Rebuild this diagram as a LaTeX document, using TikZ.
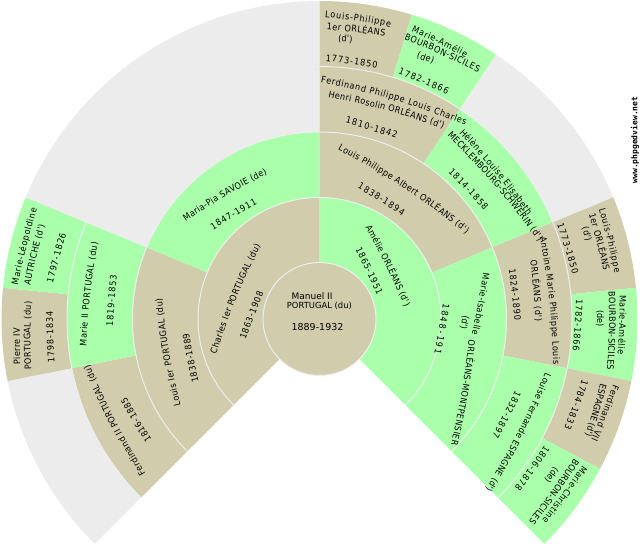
\documentclass[tikz,border=0pt]{standalone}
\usepackage{fontspec}
\setmainfont{DejaVu Sans}
\newfontfamily\arcfont[FakeStretch=0.9]{DejaVu Sans}
\newfontfamily\wmfont{DejaVu Sans Mono}
\usetikzlibrary{calc,decorations.text}
\definecolor{tan}{HTML}{D0CCAC}
\definecolor{grn}{HTML}{AAFFAA}
\definecolor{gry}{HTML}{ECECEC}
\definecolor{sep}{HTML}{EEEEEE}
\newcommand\tfont{\arcfont\fontsize{9}{10}\selectfont}
% annular sector: radii, start angle, end angle, colour
\newcommand\sect[5]{\fill[#5] ($(C)+(#3:#1)$) arc[start angle=#3,end angle=#4,radius=#1] -- ($(C)+(#4:#2)$) arc[start angle=#4,end angle=#3,radius=#2] -- cycle;}
% one line of text, from the middle of its first to the middle of its last glyph
\newcommand\tl[5]{%
  \pgfmathsetmacro\bb{veclen(#3-#1,#4-#2)/30}%
  \path[decorate,decoration={text along path,text={|\tfont|#5{\kern1.5pt}},text align={fit to path}}]
    ($(#1,-#2)!3pt!(C)$) to[bend left=\bb] ($($(#3,-#4)!-3.5pt!(#1,-#2)$)!3pt!(C)$);}
\tikzset{
  ringsep/.style={draw=sep,line width=1pt},
  ctext/.style={inner sep=0pt},
  wmark/.style={inner sep=0pt,rotate=90,font=\wmfont\bfseries\fontsize{8}{9}\selectfont}
}
\begin{document}
\begin{tikzpicture}[x=1pt,y=1pt]
\useasboundingbox (0,0) rectangle (640,-550);
\coordinate (C) at (319.5,-319);
% ring 4
\sect{252.5}{318}{225}{191.25}{gry}
\sect{252.5}{318}{191.25}{174.375}{tan}
\sect{252.5}{318}{174.375}{157.5}{grn}
\sect{252.5}{318}{157.5}{90}{gry}
\sect{252.5}{318}{90}{73.125}{tan}
\sect{252.5}{318}{73.125}{56.25}{grn}
\sect{252.5}{318}{56.25}{22.5}{gry}
\sect{252.5}{318}{22.5}{5.625}{tan}
\sect{252.5}{318}{5.625}{-11.25}{grn}
\sect{252.5}{318}{-11.25}{-28.125}{tan}
\sect{252.5}{318}{-28.125}{-45}{grn}
% ring 3
\sect{187}{252.5}{225}{191.25}{tan}
\sect{187}{252.5}{191.25}{157.5}{grn}
\sect{187}{252.5}{157.5}{90}{gry}
\sect{187}{252.5}{90}{56.25}{tan}
\sect{187}{252.5}{56.25}{22.5}{grn}
\sect{187}{252.5}{22.5}{-11.25}{tan}
\sect{187}{252.5}{-11.25}{-45}{grn}
% ring 2
\sect{121.5}{187}{225}{157.5}{tan}
\sect{121.5}{187}{157.5}{90}{grn}
\sect{121.5}{187}{90}{22.5}{tan}
\sect{121.5}{187}{22.5}{-45}{grn}
% ring 1
\sect{56}{121.5}{225}{90}{tan}
\sect{56}{121.5}{90}{-45}{grn}
% separators
\draw[ringsep] ($(C)+(225:121.5)$) arc[start angle=225,end angle=-45,radius=121.5];
\draw[ringsep] ($(C)+(225:187)$) arc[start angle=225,end angle=-45,radius=187];
\draw[ringsep] ($(C)+(225:252.5)$) arc[start angle=225,end angle=-45,radius=252.5];
\fill[tan,draw=sep,line width=1pt] (C) circle[radius=56.5];
% centre
\node[ctext,font=\fontsize{9}{10}\selectfont] (m1) at (312,-295.7) {Manuel II};
\node[ctext,font=\fontsize{8.4}{10}\selectfont] (m2) at (319.4,-305.7) {PORTUGAL (du)};
\node[ctext,font=\fontsize{9.5}{10}\selectfont] (m3) at (317.5,-327.3) {1889-1932};
% ring 1
\tl{213.3}{355}{258.3}{245}{Charles Ier PORTUGAL (du)}
\tl{242.7}{340.7}{260.7}{292.7}{1863-1908}
\tl{366.7}{225}{406.7}{305}{Amélie ORLÉANS (d')}
\tl{356.7}{246.7}{379.3}{293.3}{1865-1951}
% ring 2
\tl{178}{407}{159.3}{299.3}{Louis Ier PORTUGAL (du)}
\tl{196}{383.3}{186.3}{334.5}{1838-1889}
\tl{183.3}{220}{265}{171.7}{Maria-Pia SAVOIE (de)}
\tl{210.7}{228.3}{255}{201.7}{1847-1911}
\tl{338.3}{146.7}{467.3}{231.7}{Louis Philippe Albert ORLÉANS (d')}
\tl{358.3}{185}{403.3}{213.3}{1838-1894}
\tl{486}{272}{475}{333}{Marie-Isabelle}
\tl{466}{315}{464}{325}{(d')}
\tl{471.7}{340}{453.3}{445}{ORLÉANS-MONTPENSIER}
\begin{scope}
\clip (400,-250) rectangle (500,-352);
\tl{446}{303}{435.5}{361}{1848-1919}
\end{scope}
% ring 3
\tl{143.3}{475.7}{87.3}{366.7}{Ferdinand II PORTUGAL (du)}
\tl{149.3}{441.7}{124}{399.3}{1816-1885}
\tl{83.3}{346.7}{95}{243.3}{Marie II PORTUGAL (du)}
\tl{110}{326.7}{114}{276}{1819-1853}
\tl{320.7}{79.3}{465.7}{122.7}{Ferdinand Philippe Louis Charles}
\tl{328.3}{94}{443.3}{126}{Henri Rosolin ORLÉANS (d')}
\tl{345.7}{120}{396.7}{135.7}{1810-1842}
\tl{461}{130.7}{529.3}{213.3}{Hélène Louise Elisabeth}
\tl{449}{133.3}{540}{239.3}{MECKLEMBOURG-SCHWERIN (d')}
\tl{450}{170}{486}{208.3}{1814-1858}
\tl{542.7}{236.7}{556}{363.3}{Antoine Marie Philippe Louis}
\tl{533.3}{260}{538.3}{320.7}{ORLÉANS (d')}
\tl{511.7}{268.3}{517.3}{320}{1824-1890}
\tl{548.3}{373.3}{488.3}{490}{Louise Fernande ESPAGNE (d')}
\tl{518.3}{391.7}{495}{436.7}{1832-1897}
% ring 4
\tl{15}{285}{34}{209.3}{Marie-Léopoldine}
\tl{27.3}{285}{41.7}{226}{AUTRICHE (d')}
\tl{50}{283.3}{63.3}{234.3}{1797-1826}
\tl{17.5}{365}{17}{329.5}{Pierre IV}
\tl{28.3}{370}{28.3}{302.7}{PORTUGAL (du)}
\tl{51.7}{363.3}{50}{312.3}{1798-1834}
\tl{325}{14}{390}{24}{Louis-Philippe}
\tl{326.7}{26.7}{384}{33.3}{1er ORLÉANS}
\tl{338.3}{38.3}{350.7}{39.3}{(d')}
\tl{325.7}{58.3}{376.7}{65}{1773-1850}
\tl{412.3}{29}{465.7}{54.3}{Marie-Amélie}
\tl{405}{36.7}{478.3}{69.3}{BOURBON-SICILES}
\tl{417.3}{55}{432.7}{60.7}{(de)}
\tl{399}{71}{447.7}{91.7}{1782-1866}
\tl{601.7}{208.3}{617.3}{271.7}{Louis-Philippe}
\tl{591.7}{213.3}{606}{268.3}{1er ORLÉANS}
\tl{585}{226.7}{588.3}{239.3}{(d')}
\tl{560}{223.3}{575}{273.3}{1773-1850}
\tl{622.7}{295}{620.7}{353.3}{Marie-Amélie}
\tl{611.7}{291.7}{610}{368.3}{BOURBON-SICILES}
\tl{600}{310}{600}{323.3}{(de)}
\tl{579}{299.3}{575.7}{350}{1782-1866}
\tl{616}{385}{594.3}{439.3}{Ferdinand VII}
\tl{603.3}{384}{588.3}{435}{ESPAGNE (d')}
\tl{585}{380}{567.3}{428.3}{1784-1833}
\tl{585}{466.7}{545}{520.7}{Marie-Christine}
\tl{576.7}{460}{531.7}{521.7}{BOURBON-SICILES}
\tl{556.7}{468.3}{549.3}{478.3}{(de)}
\tl{547.3}{446.7}{517.3}{488.3}{1806-1878}
% watermark
\node[wmark] (wm) at (635,-140) {www.phpgedview.net};
\end{tikzpicture}
\end{document}
